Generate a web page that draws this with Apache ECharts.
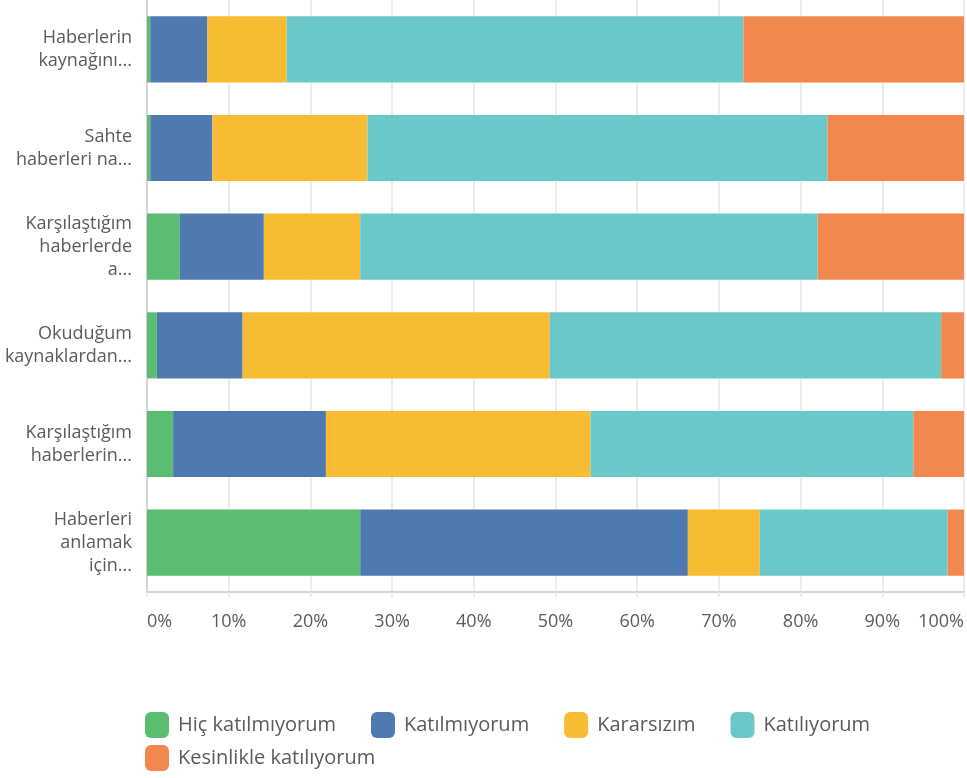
<!DOCTYPE html>
<html>
<head>
<meta charset="utf-8">
<script src="https://cdn.jsdelivr.net/npm/echarts@6/dist/echarts.min.js"></script>
<style>
  html, body { margin: 0; padding: 0; background: #fff; }
  #chart { width: 967px; height: 778px; }
</style>
</head>
<body>
<div id="chart"></div>
<script>
// Survey statements (truncated as displayed), top to bottom
const categories = [
  'Haberlerin\nkaynağını...',
  'Sahte\nhaberleri na...',
  'Karşılaştığım\nhaberlerde\na...',
  'Okuduğum\nkaynaklardan...',
  'Karşılaştığım\nhaberlerin...',
  'Haberleri\nanlamak\niçin...'
];

// Response shares in percent, one array per answer option
const hicKatilmiyorum       = [0.4, 0.4, 4.0, 1.2, 3.2, 26.1];
const katilmiyorum          = [7.0, 7.6, 10.3, 10.5, 18.7, 40.1];
const kararsizim            = [9.7, 19.0, 11.8, 37.6, 32.4, 8.8];
const katiliyorum           = [55.9, 56.3, 56.0, 47.9, 39.5, 23.0];
const kesinlikleKatiliyorum = [27.0, 16.7, 17.9, 2.8, 6.2, 2.0];

const seriesNames = ['Hiç katılmıyorum', 'Katılmıyorum', 'Kararsızım', 'Katılıyorum', 'Kesinlikle katılıyorum'];
const seriesData = [hicKatilmiyorum, katilmiyorum, kararsizim, katiliyorum, kesinlikleKatiliyorum];
const colors = ['#5bbd6f', '#4f7ab1', '#f7bc33', '#6bc8c9', '#f2884f'];

const FONT = 'Open Sans';
const TEXT = '#5b5b5b';

const chart = echarts.init(document.getElementById('chart'), null, { renderer: 'canvas' });

const legendBase = {
  left: 145,
  padding: 0,
  icon: 'roundRect',
  itemWidth: 24, itemHeight: 26,
  itemGap: 35,
  textStyle: { fontFamily: FONT, fontSize: 20, color: TEXT, padding: [0, 0, 0, 4] }
};

chart.setOption({
  animation: false,
  color: colors,
  textStyle: { fontFamily: FONT },
  grid: { left: 147, right: 2, top: 0, height: 592, containLabel: false },
  legend: [
    Object.assign({ data: seriesNames.slice(0, 4), top: 712 }, legendBase),
    Object.assign({ data: seriesNames.slice(4), top: 745 }, legendBase)
  ],
  xAxis: {
    type: 'value',
    min: 0, max: 100, interval: 10,
    axisLine: { show: true, lineStyle: { color: '#d4d4d4', width: 2 } },
    axisTick: { show: true, length: 5, lineStyle: { color: '#e6e6e6', width: 1.5 } },
    splitLine: { show: true, lineStyle: { color: '#e6e6e6', width: 1.5 } },
    axisLabel: {
      formatter: '{value}%',
      margin: 21,
      fontSize: 18,
      color: TEXT,
      fontFamily: FONT,
      alignMinLabel: 'left',
      alignMaxLabel: 'right'
    }
  },
  yAxis: {
    type: 'category',
    data: categories,
    inverse: true,
    axisLine: { show: true, lineStyle: { color: '#d4d4d4', width: 2 } },
    axisTick: { show: false },
    splitLine: { show: false },
    axisLabel: {
      margin: 15,
      fontSize: 18,
      lineHeight: 23,
      color: TEXT,
      fontFamily: FONT,
      align: 'right'
    }
  },
  series: seriesNames.map((name, i) => ({
    name,
    type: 'bar',
    stack: 'total',
    barCategoryGap: '33%',
    data: seriesData[i],
    itemStyle: { color: colors[i] }
  }))
});
</script>
</body>
</html>
